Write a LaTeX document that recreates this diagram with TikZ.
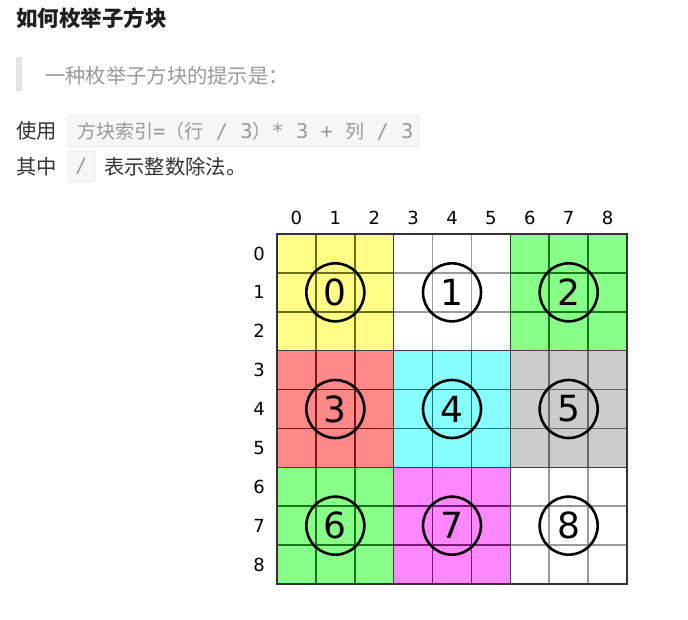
\documentclass[tikz,border=0pt]{standalone}
\usepackage{fontspec}
\setmainfont{Noto Sans CJK SC}
\newfontfamily\cjk{Noto Sans CJK SC}
\newfontfamily\monof{DejaVu Sans Mono}
\newfontfamily\digf{DejaVu Sans}
\definecolor{txt}{HTML}{333333}
\definecolor{quotetxt}{HTML}{999999}
\definecolor{quotebar}{HTML}{E3E3E3}
\definecolor{codebg}{HTML}{F6F6F6}
\definecolor{codeedge}{HTML}{E8E8E8}
\definecolor{codetxt}{HTML}{999999}
\definecolor{cYel}{HTML}{FFFF88}\definecolor{lYel}{HTML}{6E6E14}
\definecolor{cWht}{HTML}{FFFFFF}\definecolor{lWht}{HTML}{999999}
\definecolor{cGrn}{HTML}{88FF88}\definecolor{lGrn}{HTML}{187818}
\definecolor{cRed}{HTML}{FF8888}\definecolor{lRed}{HTML}{781818}
\definecolor{cCya}{HTML}{88FFFF}\definecolor{lCya}{HTML}{187878}
\definecolor{cGry}{HTML}{CCCCCC}\definecolor{lGry}{HTML}{666666}
\definecolor{cMag}{HTML}{FF88FF}\definecolor{lMag}{HTML}{781878}
\begin{document}
\begin{tikzpicture}[x=1pt,y=-1pt,
  bodytext/.style={anchor=west,inner sep=0pt,text=txt,font=\cjk\fontsize{20.3}{24}\selectfont},
  gridlab/.style={inner sep=0pt,text=black,font=\digf\fontsize{18}{21}\selectfont},
  bignum/.style={circle,draw=black,line width=2.6pt,minimum size=58pt,inner sep=0pt,text=black,font=\digf\fontsize{36}{40}\selectfont},
  codebox/.style={draw=codeedge,fill=codebg,rounded corners=3pt,line width=0.8pt}]
\useasboundingbox (0,0) rectangle (688,619);
\fill[white] (0,0) rectangle (688,619);
% title
\node[anchor=west,inner sep=0pt,text=black!88,font=\cjk\bfseries\fontsize{21.5}{25}\selectfont] (title) at (16,18) {如何枚举子方块};
% quote
\fill[quotebar] (16,57) rectangle (22,91);
\node[bodytext,text=quotetxt] (quote) at (45,76) {一种枚举子方块的提示是：};
% usage line
\node[bodytext] (use) at (16,131) {使用};
\draw[codebox] (68,115) rectangle (419,147);
\node[anchor=west,inner sep=0pt,text=codetxt] (code) at (77,131) {\cjk\fontsize{19}{22}\selectfont 方块索引\monof\fontsize{20.4}{22}\selectfont =\cjk\fontsize{19}{22}\selectfont （行\monof\fontsize{20.4}{22}\selectfont{} / 3\cjk\fontsize{19}{22}\selectfont ）\monof\fontsize{20.4}{22}\selectfont * 3 + \cjk\fontsize{19}{22}\selectfont 列\monof\fontsize{20.4}{22}\selectfont{} / 3};
\node[bodytext] (where) at (16,167) {其中};
\draw[codebox] (68,151) rectangle (95,182);
\node[inner sep=0pt,text=codetxt,font=\monof\fontsize{20}{22}\selectfont] (slash) at (81.5,166) {/};
\node[bodytext] (desc) at (104,167) {表示整数除法。};
% grid
\def\L{277}\def\T{234}\def\C{38.8889}
\foreach \bi/\bj/\fc/\lc/\n in {0/0/cYel/lYel/0,0/1/cWht/lWht/1,0/2/cGrn/lGrn/2,
   1/0/cRed/lRed/3,1/1/cCya/lCya/4,1/2/cGry/lGry/5,
   2/0/cGrn/lGrn/6,2/1/cMag/lMag/7,2/2/cWht/lWht/8}{
  \pgfmathsetmacro\xa{\L+3*\bj*\C}
  \pgfmathsetmacro\ya{\T+3*\bi*\C}
  \fill[\fc] (\xa,\ya) rectangle ++(3*\C,3*\C);
  \foreach \k in {1,2}{
    \draw[\lc,line width=1.6pt] (\xa+\k*\C,\ya) -- ++(0,3*\C);
    \draw[\lc,line width=1.6pt] (\xa,\ya+\k*\C) -- ++(3*\C,0);
  }
  \draw[\lc,line width=1.6pt] (\xa,\ya) rectangle ++(3*\C,3*\C);
  \node[bignum] (blk\n) at (\xa+1.5*\C,\ya+1.5*\C) {\n};
}
\foreach \k in {1,2}{
  \draw[black!75,line width=1.6pt] (\L+3*\k*\C,\T) -- ++(0,9*\C);
  \draw[black!75,line width=1.6pt] (\L,\T+3*\k*\C) -- ++(9*\C,0);
}
\draw[black!80,line width=1.8pt] (\L,\T) rectangle ++(9*\C,9*\C);
\foreach \i in {0,...,8}{
  \node[gridlab] (col\i) at (\L+\i*\C+0.5*\C,218) {\i};
  \node[gridlab] (row\i) at (259,\T+\i*\C+0.5*\C) {\i};
}
\end{tikzpicture}
\end{document}
